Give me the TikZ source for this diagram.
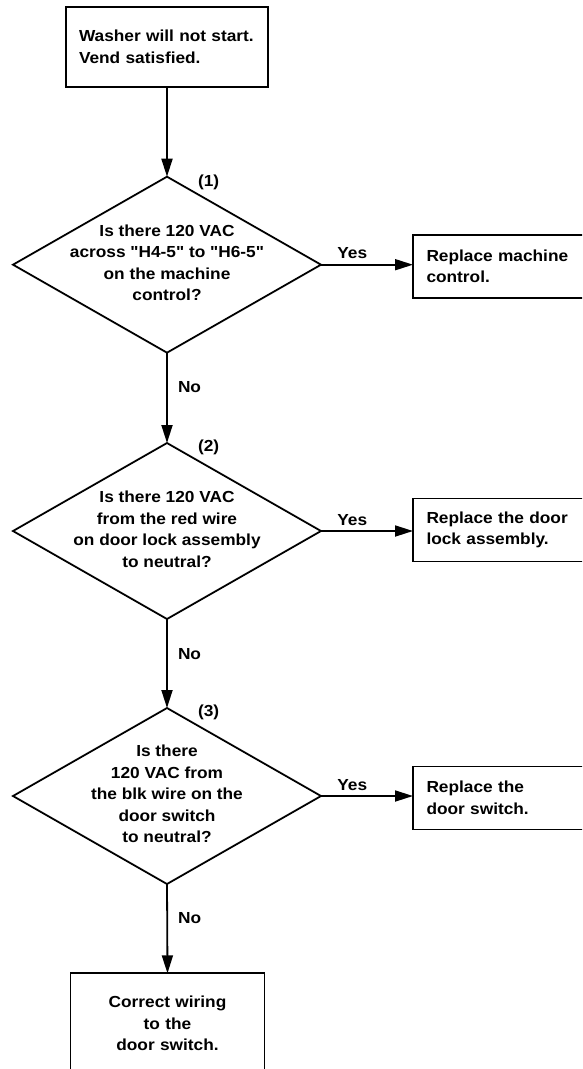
\documentclass[tikz,border=0pt]{standalone}
\usepackage{fontspec}
\setmainfont{Liberation Sans}[FakeStretch=1.08, Ligatures=TeXOff]
\usetikzlibrary{shapes.geometric,arrows.meta}
\newcommand{\zt}[1]{\raisebox{-4pt}[0pt][0pt]{\makebox[0pt]{\begin{tabular}{@{}c@{}}#1\end{tabular}}}}
\newcommand{\q}{\symbol{34}}
\begin{document}
\begin{tikzpicture}[x=1pt,y=-1pt,line width=1.8pt,
  every node/.style={font=\fontsize{16}{21.5}\selectfont\bfseries, outer sep=0pt},
  startbox/.style={draw, rectangle, minimum width=202pt, minimum height=80pt, text width=176pt, align=left, inner xsep=13pt},
  dec/.style={draw, diamond, minimum width=308pt, minimum height=176pt, inner sep=0pt},
  actbox/.style={draw, rectangle, minimum width=200pt, minimum height=63pt, text width=173pt, align=left, inner xsep=13.5pt},
  endbox/.style={draw, rectangle, minimum width=194pt, minimum height=100pt, text width=180pt, align=center},
  arr/.style={-{Triangle[length=18pt,width=11pt]}},
  lbl/.style={inner sep=0pt}]
\path[use as bounding box] (0,0) rectangle (582,1069);
\begin{scope}
\clip (0,0) rectangle (582,1069);
\node[startbox] (start) at (167,47) {Washer will not start.\\Vend satisfied.};
\node[dec] (d1) at (167,264.7) {\zt{Is there 120 VAC\\across \q H4-5\q{} to \q H6-5\q\\on the machine\\control?}};
\node[actbox] (r1) at (513,266.5) {Replace machine\\control.};
\node[dec] (d2) at (167,531) {\zt{Is there 120 VAC\\from the red wire\\on door lock assembly\\to neutral?}};
\node[actbox] (r2) at (513,530) {Replace the door\\lock assembly.};
\node[dec] (d3) at (167,796) {\zt{Is there\\120 VAC from\\the blk wire on the\\door switch\\to neutral?}};
\node[actbox] (r3) at (513,798) {Replace the\\door switch.};
\node[endbox] (end) at (167.5,1023.3) {Correct wiring\\to the\\door switch.};

\node[lbl, anchor=west, xshift=31pt, yshift=-6pt] (n1) at (d1.north) {(1)};
\node[lbl, anchor=west, xshift=31pt, yshift=-4pt] (n2) at (d2.north) {(2)};
\node[lbl, anchor=west, xshift=31pt, yshift=-4pt] (n3) at (d3.north) {(3)};

\draw[arr] (start.south -| d1.north) -- (d1.north);
\draw[arr] (d1.east) -- node[lbl, pos=0.34, anchor=base, yshift=6pt] {Yes} (d1.east -| r1.west);
\draw[arr] (d2.east) -- node[lbl, pos=0.34, anchor=base, yshift=6pt] {Yes} (d2.east -| r2.west);
\draw[arr] (d3.east) -- node[lbl, pos=0.34, anchor=base, yshift=6pt] {Yes} (d3.east -| r3.west);
\draw[arr] (d1.south) -- node[lbl, pos=0.38, anchor=west, xshift=11pt] {No} (d2.north);
\draw[arr] (d2.south) -- node[lbl, pos=0.39, anchor=west, xshift=11pt] {No} (d3.north);
\draw[arr] (d3.south) -- node[lbl, pos=0.38, anchor=west, xshift=11pt] {No} (end.north);
\end{scope}
\end{tikzpicture}
\end{document}
